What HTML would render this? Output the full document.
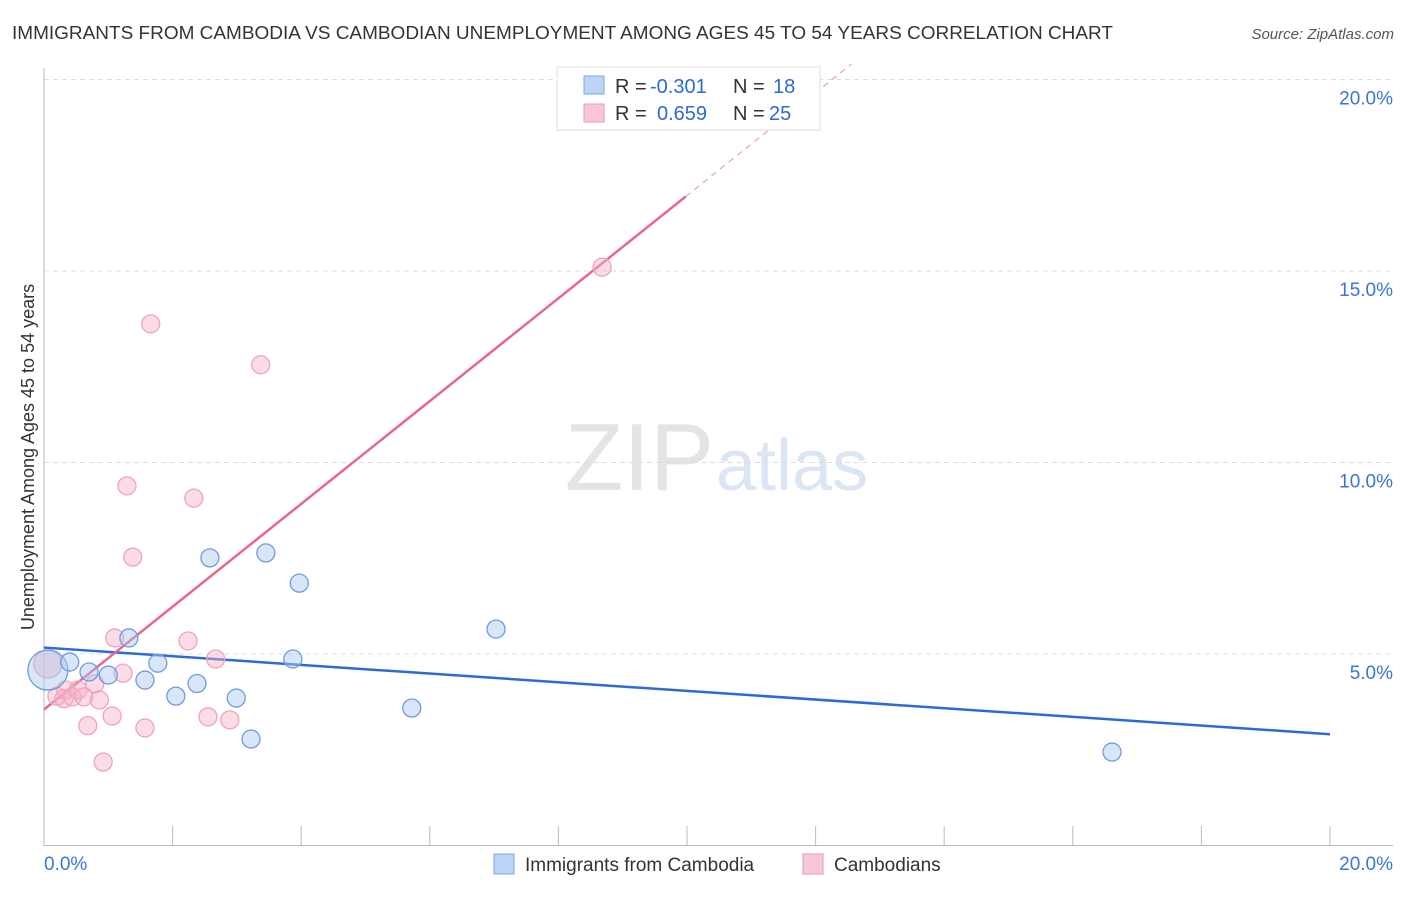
<!DOCTYPE html>
<html><head><meta charset="utf-8"><style>
body{margin:0;background:#fff;font-family:"Liberation Sans",sans-serif;}
svg text{font-family:"Liberation Sans",sans-serif;}
</style></head><body>
<svg id="c" width="1406" height="892" xmlns="http://www.w3.org/2000/svg">
<text x="12" y="39" font-size="18" fill="#333" textLength="1101" lengthAdjust="spacingAndGlyphs">IMMIGRANTS FROM CAMBODIA VS CAMBODIAN UNEMPLOYMENT AMONG AGES 45 TO 54 YEARS CORRELATION CHART</text>
<text x="1394" y="39" font-size="15" fill="#555" font-style="italic" text-anchor="end">Source: ZipAtlas.com</text>
<text x="714" y="490" font-size="96" fill="#e4e4e4" text-anchor="end" font-family="Liberation Serif">ZIP</text>
<text x="716" y="490" font-size="72" fill="#dbe6f5">atlas</text>
<text transform="translate(34,457) rotate(-90)" font-size="18" fill="#333" text-anchor="middle">Unemployment Among Ages 45 to 54 years</text>
<g id="grid"></g><g id="lines"></g><g id="pts"></g>
<g>
<rect x="557" y="67" width="263" height="63" fill="#fff" stroke="#ddd"/>
<rect x="584" y="76" width="20" height="18" fill="#bcd4f6" stroke="#7fa6e0"/>
<rect x="584" y="104" width="20" height="18" fill="#f9c6d5" stroke="#ea99b2"/>
<text x="615" y="93" font-size="20" fill="#333">R =</text>
<text x="650" y="93" font-size="20" fill="#2d6ad6">-0.301</text>
<text x="733" y="93" font-size="20" fill="#333">N =</text>
<text x="773" y="93" font-size="20" fill="#2d6ad6">18</text>
<text x="615" y="120" font-size="20" fill="#333">R =</text>
<text x="657" y="120" font-size="20" fill="#2d6ad6">0.659</text>
<text x="733" y="120" font-size="20" fill="#333">N =</text>
<text x="769" y="120" font-size="20" fill="#2d6ad6">25</text>
</g>
<g>
<rect x="494" y="854" width="20" height="20" fill="#bcd4f6" stroke="#7fa6e0"/>
<text x="525" y="871" font-size="19" fill="#333">Immigrants from Cambodia</text>
<rect x="803" y="854" width="20" height="20" fill="#f9c6d5" stroke="#ea99b2"/>
<text x="834" y="871" font-size="19" fill="#333">Cambodians</text>
</g>
</svg>
<script>
const xTicks=[0,2,4,6,8,10,12,14,16,18,20];
const yTicks=[5,10,15,20];
const blueX=[0.06,0.40,0.70,1.00,1.32,1.57,1.77,2.05,2.38,2.58,2.99,3.22,3.45,3.87,3.97,5.72,7.03,16.61];
const blueY=[4.58,4.79,4.53,4.45,5.42,4.32,4.76,3.90,4.23,7.51,3.85,2.78,7.64,4.87,6.85,3.59,5.65,2.44];
const pinkX=[0.06,0.20,0.31,0.34,0.44,0.53,0.62,0.68,0.79,0.86,0.92,1.06,1.10,1.23,1.29,1.38,1.57,1.66,2.24,2.33,2.55,2.67,2.89,3.37,8.68];
const pinkY=[4.74,3.90,3.83,4.06,3.88,4.06,3.88,3.13,4.22,3.80,2.18,3.38,5.42,4.50,9.39,7.53,3.07,13.62,5.34,9.07,3.36,4.87,3.28,12.55,15.10];
const X=v=>44+v*64.3, Y=v=>845.5-v*38.3;
const NS="http://www.w3.org/2000/svg";
function mk(t,a,p){const e=document.createElementNS(NS,t);for(const k in a)e.setAttribute(k,a[k]);p.appendChild(e);return e;}
const g=document.getElementById('grid');
yTicks.forEach(t=>{
 const l=mk('line',{x1:44,x2:1393,y1:Y(t),y2:Y(t),stroke:'#ddd','stroke-dasharray':'5,4'},g);
 
 
 const tx=mk('text',{x:1393,y:Y(t)+25,'font-size':19,fill:'#3a74d8','text-anchor':'end'},g);
 tx.textContent=t.toFixed(1)+'%';
 
 
});
mk('line',{x1:44,x2:44,y1:68,y2:846,stroke:'#bbb'},g);
mk('line',{x1:44,x2:1393,y1:845.5,y2:845.5,stroke:'#bbb'},g);
xTicks.forEach(t=>{
 const l=mk('line',{x1:X(t),x2:X(t),y1:826,y2:846,stroke:'#bbb'},g);
 
 
});
[[0,'start',44],[20,'end',1393]].forEach(([v,a,px])=>{
 const tx=mk('text',{x:px,y:870,'font-size':19,fill:'#3a74d8','text-anchor':a},g);
 tx.textContent=v.toFixed(1)+'%';
 
 
});
function reg(xs,ys){const n=xs.length;let mx=0,my=0;xs.forEach((x,i)=>{mx+=x;my+=ys[i];});mx/=n;my/=n;let sxy=0,sxx=0;xs.forEach((x,i)=>{sxy+=(x-mx)*(ys[i]-my);sxx+=(x-mx)**2;});const b=sxy/sxx;return [my-b*mx,b];}
const L=document.getElementById('lines');
const [ba,bb]=reg(blueX,blueY);
let bl=mk('line',{x1:X(0),y1:Y(ba),x2:X(20),y2:Y(ba+bb*20),stroke:'#2d6ad6','stroke-width':2.5},L);


const [pa,pb]=reg(pinkX,pinkY);
const pmax=Math.max(...pinkX)+1.3;
let pl=mk('line',{x1:X(0),y1:Y(pa),x2:X(pmax),y2:Y(pa+pb*pmax),stroke:'#e8678f','stroke-width':2.5},L);


const xe=(20.4-pa)/pb;
let pd=mk('line',{x1:X(pmax),y1:Y(pa+pb*pmax),x2:X(xe),y2:Y(20.4),stroke:'#e8a0b6','stroke-width':1.2,'stroke-dasharray':'6,5'},L);


const P=document.getElementById('pts');
pinkX.forEach((x,i)=>{
 const c=mk('circle',{cx:X(x),cy:Y(pinkY[i]),r:i==0?14:9,fill:'rgba(246,176,197,0.45)',stroke:'#eea5bc','stroke-width':1.3},P);
 
 
});
blueX.forEach((x,i)=>{
 const c=mk('circle',{cx:X(x),cy:Y(blueY[i]),r:i==0?20:9,fill:'rgba(170,200,240,0.45)',stroke:'#6f9be0','stroke-width':1.3},P);
 
 
});
</script>
</body></html>
